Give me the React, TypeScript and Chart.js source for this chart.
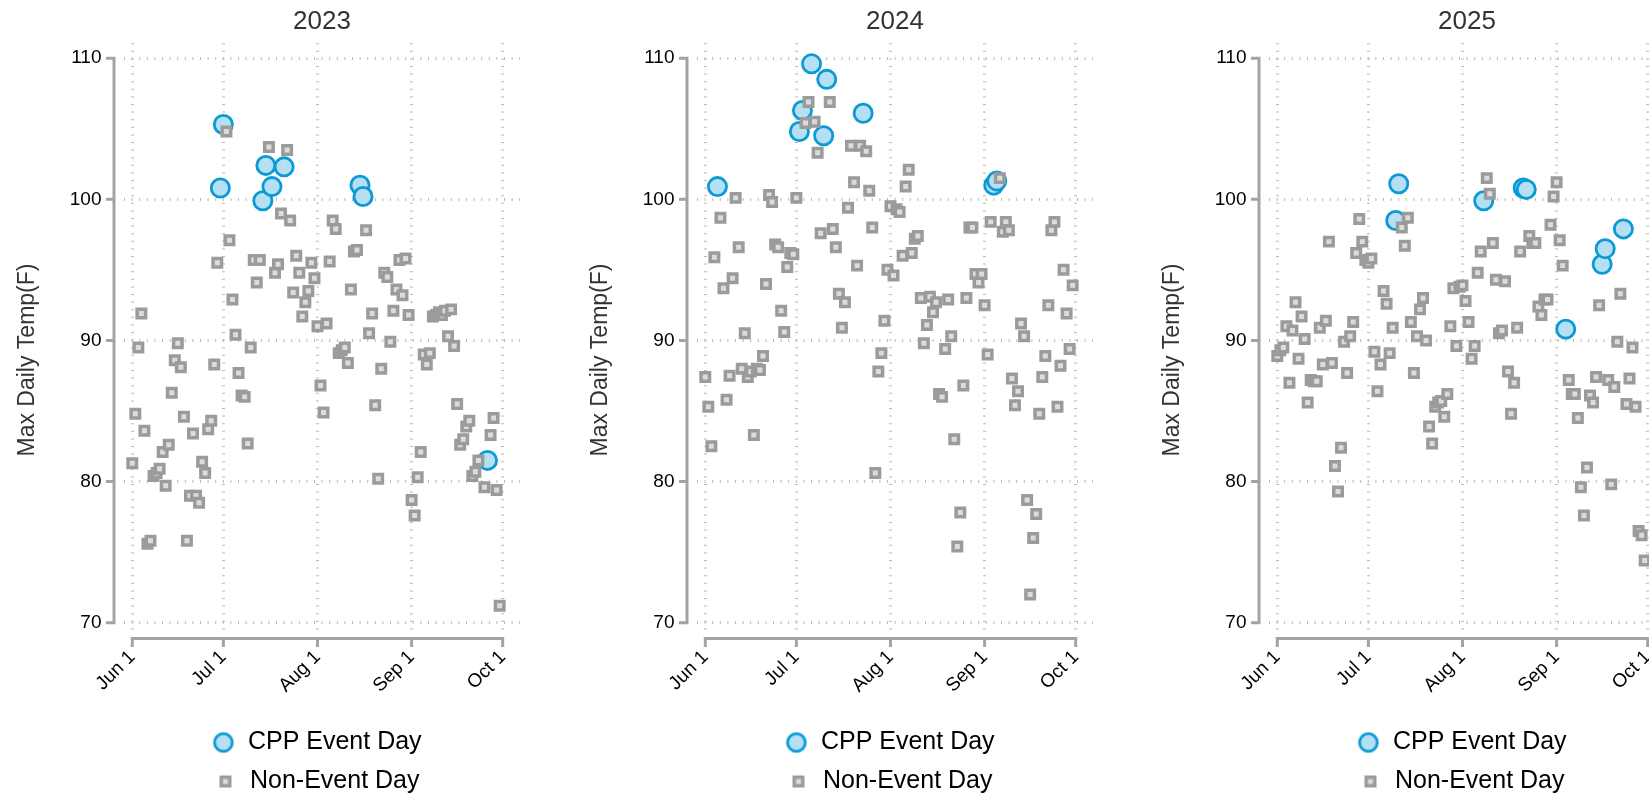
import React, { useEffect, useRef } from 'react';
import { Chart, registerables } from 'chart.js';

Chart.register(...registerables);
Chart.defaults.font.family = '"Liberation Sans", Arial, sans-serif';

// ---- tick definitions (x = days since Jun 1) ----
const TICK_DAYS = [0, 30, 61, 92, 122];
const TICK_LABELS = ['Jun 1', 'Jul 1', 'Aug 1', 'Sep 1', 'Oct 1'];
const Y_TICKS = [70, 80, 90, 100, 110];
const YEARS = ['2023', '2024', '2025'];
const Y_TITLE = 'Max Daily Temp(F)';

// ---- CPP event days (day index since Jun 1) and their max temps ----
const cppDays2023 = [29, 30, 43, 44, 46, 50, 75, 76, 117];
const cppTemps2023 = [100.8, 105.3, 99.9, 102.4, 100.9, 102.3, 101.0, 100.2, 81.5];
const cppDays2024 = [4, 31, 32, 35, 39, 40, 52, 95, 96];
const cppTemps2024 = [100.9, 104.8, 106.3, 109.6, 104.5, 108.5, 106.1, 101.0, 101.3];
const cppDays2025 = [39, 40, 68, 81, 82, 95, 107, 108, 114];
const cppTemps2025 = [98.5, 101.1, 99.9, 100.8, 100.7, 90.8, 95.4, 96.5, 97.9];

// ---- Non-event day max temps, indexed by day since Jun 1 (null = no non-event point) ----
const nonTemps2023 = [
  81.3, 84.8, 89.5, 91.9, 83.6, 75.6, 75.8, 80.4, 80.6, 80.9,
  82.1, 79.7, 82.6, 86.3, 88.6, 89.8, 88.1, 84.6, 75.8, 79.0,
  83.4, 79.0, 78.5, 81.4, 80.6, 83.7, 84.3, 88.3, 95.5, null,
  null, 104.8, 97.1, 92.9, 90.4, 87.7, 86.1, 86.0, 82.7, 89.5,
  95.7, 94.1, 95.7, null, null, 103.7, null, 94.8, 95.4, 99.0,
  null, 103.5, 98.5, 93.4, 96.0, 94.8, 91.7, 92.7, 93.5, 95.5,
  94.4, 91.0, 86.8, 84.9, 91.2, 95.6, 98.5, 97.9, 89.1, 89.3,
  89.5, 88.4, 93.6, 96.3, 96.4, null, null, 97.8, 90.5, 91.9,
  85.4, 80.2, 88.0, 94.8, 94.5, 89.9, 92.1, 93.6, 95.7, 93.2,
  95.8, 91.8, 78.7, 77.6, 80.3, 82.1, 89.0, 88.3, 89.1, 91.7,
  91.8, 92.0, 91.8, 92.1, 90.3, 92.2, 89.6, 85.5, 82.6, 83.0,
  83.9, 84.3, 80.4, 80.7, 81.5, null, 79.6, null, 83.3, 84.5,
  79.4, 71.2,
];
const nonTemps2024 = [
  87.4, 85.3, 82.5, 95.9, null, 98.7, 93.7, 85.8, 87.5, 94.4,
  100.1, 96.6, 88.0, 90.5, 87.4, 87.8, 83.3, 88.0, 87.9, 88.9,
  94.0, 100.3, 99.8, 96.8, 96.6, 92.1, 90.6, 95.2, 96.2, 96.1,
  100.1, null, null, 105.4, 106.9, null, 105.5, 103.3, 97.6, null,
  null, 106.9, 97.9, 96.6, 93.3, 90.9, 92.7, 99.4, 103.8, 101.2,
  95.3, 103.8, null, 103.4, 100.6, 98.0, 80.6, 87.8, 89.1, 91.4,
  95.0, 99.5, 94.6, 99.3, 99.1, 96.0, 100.9, 102.1, 96.2, 97.2,
  97.4, 93.0, 89.8, 91.1, 93.1, 92.0, 92.7, 86.2, 86.0, 89.4,
  92.9, 90.3, 83.0, 75.4, 77.8, 86.8, 93.0, 98.0, 98.0, 94.7,
  94.1, 94.7, 92.5, 89.0, 98.4, null, null, 101.5, 97.7, 98.4,
  97.8, 87.3, 85.4, 86.4, 91.2, 90.3, 78.7, 72.0, 76.0, 77.7,
  84.8, 87.4, 88.9, 92.5, 97.8, 98.4, 85.3, 88.2, 95.0, 91.9,
  89.4, 93.9,
];
const nonTemps2025 = [
  88.9, 89.3, 89.5, 91.0, 87.0, 90.7, 92.7, 88.7, 91.7, 90.1,
  85.6, 87.2, 87.1, 87.1, 90.9, 88.3, 91.4, 97.0, 88.4, 81.1,
  79.3, 82.4, 89.9, 87.7, 90.3, 91.3, 96.2, 98.6, 97.0, 95.7,
  95.5, 95.8, 89.2, 86.4, 88.3, 93.5, 92.6, 89.1, 90.9, null,
  null, 98.0, 96.7, 98.7, 91.3, 87.7, 90.3, 92.2, 93.0, 90.0,
  83.9, 82.7, 85.3, 85.6, 85.7, 84.6, 86.2, 91.0, 93.7, 89.6,
  93.8, 93.9, 92.8, 91.3, 88.7, 89.6, 94.8, 96.3, null, 101.5,
  100.4, 96.9, 94.3, 90.5, 90.7, 94.2, 87.8, 84.8, 87.0, 90.9,
  96.3, null, null, 97.4, 96.9, 96.9, 92.4, 91.8, 92.9, 92.9,
  98.2, 100.2, 101.2, 97.1, 95.3, null, 87.2, 86.2, 86.2, 84.5,
  79.6, 77.6, 81.0, 86.1, 85.6, 87.4, 92.5, null, null, 87.2,
  79.8, 86.7, 89.9, 93.3, null, 85.5, 87.3, 89.5, 85.3, 76.5,
  76.2, 74.4,
];

const CPP_DAYS = [cppDays2023, cppDays2024, cppDays2025];
const CPP_TEMPS = [cppTemps2023, cppTemps2024, cppTemps2025];
const NON_TEMPS = [nonTemps2023, nonTemps2024, nonTemps2025];

// ---- styles ----
const FONT = '"Liberation Sans", Arial, sans-serif';
const CPP_BORDER = '#0a9ad6';
const CPP_FILL = '#b5dff2';
const NON_BORDER = '#9b9b9b';
const NON_FILL = '#dcdcdc';
const GRID = '#b8b8b8';
const AXIS = '#a3a3a3';
const PANEL_W = 572.7;
const LEGEND_SHIFT = -5.5;

function makeMarker(kind: 'circle' | 'rect'): HTMLCanvasElement {
  const c = document.createElement('canvas');
  c.width = 24;
  c.height = 24;
  const g = c.getContext('2d')!;
  if (kind === 'circle') {
    g.beginPath();
    g.arc(12, 12, 8.9, 0, Math.PI * 2);
    g.fillStyle = CPP_FILL;
    g.fill();
    g.lineWidth = 2.8;
    g.strokeStyle = CPP_BORDER;
    g.stroke();
  } else {
    g.fillStyle = NON_FILL;
    g.fillRect(7.75, 7.75, 8.5, 8.5);
    g.lineWidth = 3.5;
    g.strokeStyle = NON_BORDER;
    g.strokeRect(7.75, 7.75, 8.5, 8.5);
  }
  return c;
}

const offsetAxes = {
  id: 'offsetAxes',
  beforeDraw(chart: any) {
    const lg = chart.legend;
    if (lg && !lg._shifted) {
      lg.left += LEGEND_SHIFT;
      lg.right += LEGEND_SHIFT;
      lg._shifted = true;
    }
  },
  afterDraw(chart: any) {
    const { ctx, chartArea, scales } = chart;
    const xs = scales.x;
    const ys = scales.y;
    ctx.save();
    ctx.strokeStyle = AXIS;
    ctx.lineWidth = 3;
    ctx.lineCap = 'butt';
    ctx.lineJoin = 'miter';
    // y axis
    const ax = chartArea.left - 10;
    const yTop = ys.getPixelForValue(Y_TICKS[Y_TICKS.length - 1]);
    const yBot = ys.getPixelForValue(Y_TICKS[0]);
    ctx.beginPath();
    ctx.moveTo(ax - 8, yTop);
    ctx.lineTo(ax, yTop);
    ctx.lineTo(ax, yBot);
    ctx.lineTo(ax - 8, yBot);
    for (let i = 1; i < Y_TICKS.length - 1; i++) {
      const p = ys.getPixelForValue(Y_TICKS[i]);
      ctx.moveTo(ax - 8, p);
      ctx.lineTo(ax, p);
    }
    ctx.stroke();
    // x axis
    const ay = chartArea.bottom + 6.5;
    const xL = xs.getPixelForValue(TICK_DAYS[0]);
    const xR = xs.getPixelForValue(TICK_DAYS[TICK_DAYS.length - 1]);
    ctx.beginPath();
    ctx.moveTo(xL, ay + 8.5);
    ctx.lineTo(xL, ay);
    ctx.lineTo(xR, ay);
    ctx.lineTo(xR, ay + 8.5);
    for (let i = 1; i < TICK_DAYS.length - 1; i++) {
      const p = xs.getPixelForValue(TICK_DAYS[i]);
      ctx.moveTo(p, ay);
      ctx.lineTo(p, ay + 8.5);
    }
    ctx.stroke();
    // y axis title
    ctx.translate(28, 360);
    ctx.rotate(-Math.PI / 2);
    ctx.fillStyle = '#333';
    ctx.font = `23px ${FONT}`;
    ctx.textAlign = 'center';
    ctx.textBaseline = 'middle';
    ctx.fillText(Y_TITLE, 0, 0);
    ctx.restore();
  },
};

function Panel({ idx }: { idx: number }) {
  const ref = useRef<HTMLCanvasElement | null>(null);
  useEffect(() => {
    if (!ref.current) return;
    const cppMarker = makeMarker('circle');
    const nonMarker = makeMarker('rect');
    const cppData = CPP_DAYS[idx].map((d, i) => ({ x: d, y: CPP_TEMPS[idx][i] }));
    const nonData: { x: number; y: number }[] = [];
    NON_TEMPS[idx].forEach((t, d) => {
      if (t !== null && t !== undefined) nonData.push({ x: d, y: t as number });
    });
    const chart = new Chart(ref.current, {
      type: 'scatter',
      data: {
        datasets: [
          {
            label: 'CPP Event Day',
            data: cppData,
            pointStyle: 'circle',
            pointRadius: 9.1,
            pointHoverRadius: 9.1,
            backgroundColor: CPP_FILL,
            borderColor: CPP_BORDER,
            borderWidth: 2.8,
            order: 1,
          },
          {
            label: 'Non-Event Day',
            data: nonData,
            pointStyle: 'rect',
            pointRadius: 6,
            pointHoverRadius: 6,
            backgroundColor: NON_FILL,
            borderColor: NON_BORDER,
            borderWidth: 3.5,
            order: 0,
          },
        ],
      },
      options: {
        responsive: false,
        animation: false,
        events: [],
        layout: { padding: { left: 0, right: 53, top: 0, bottom: 0 } },
        scales: {
          x: {
            type: 'linear',
            min: -2.73,
            max: 127.7,
            afterBuildTicks: (s: any) => {
              s.ticks = TICK_DAYS.map((v) => ({ value: v }));
            },
            afterFit: (s: any) => {
              s.height = 84;
            },
            ticks: {
              autoSkip: false,
              minRotation: 45,
              maxRotation: 45,
              padding: 14,
              color: '#000',
              font: { size: 19 },
              callback: (v: any) => {
                const k = TICK_DAYS.indexOf(Number(v));
                return k >= 0 ? TICK_LABELS[k] : '';
              },
            },
            grid: { color: GRID, lineWidth: 3, drawTicks: false },
            border: { display: false, dash: [1, 6.6] },
          },
          y: {
            type: 'linear',
            min: 69.34,
            max: 111.06,
            afterBuildTicks: (s: any) => {
              s.ticks = Y_TICKS.map((v) => ({ value: v }));
            },
            afterFit: (s: any) => {
              s.width = 124;
            },
            ticks: {
              padding: 22.5,
              color: '#000',
              font: { size: 19 },
              callback: (v: any) => String(v),
            },
            grid: { color: GRID, lineWidth: 3, drawTicks: false },
            border: { display: false, dash: [1, 6.6] },
          },
        },
        plugins: {
          title: {
            display: true,
            text: YEARS[idx],
            color: '#333',
            font: { size: 26, weight: 'normal' },
            padding: { top: 6, bottom: 6 },
            fullSize: false,
          },
          legend: {
            display: true,
            position: 'bottom',
            fullSize: false,
            labels: {
              usePointStyle: true,
              boxWidth: 24,
              boxHeight: 14,
              padding: 14,
              color: '#000',
              font: { size: 25 },
              sort: (a: any, b: any) => a.datasetIndex - b.datasetIndex,
              generateLabels: (c: any) => {
                const items = (Chart.defaults.plugins.legend.labels as any).generateLabels(c);
                return items.map((it: any) => ({
                  ...it,
                  pointStyle: it.datasetIndex === 0 ? cppMarker : nonMarker,
                }));
              },
            },
          },
          tooltip: { enabled: false },
        },
      } as any,
      plugins: [offsetAxes],
    });
    return () => chart.destroy();
  }, [idx]);
  return (
    <canvas
      ref={ref}
      width={573}
      height={804}
      style={{ position: 'absolute', left: idx * PANEL_W, top: 0, width: 573, height: 804 }}
    />
  );
}

export default function App() {
  return (
    <div
      style={{
        position: 'fixed',
        left: 0,
        top: 0,
        width: '100vw',
        height: '100vh',
        overflow: 'hidden',
        background: '#fff',
      }}
    >
      {YEARS.map((_, i) => (
        <Panel key={i} idx={i} />
      ))}
    </div>
  );
}
